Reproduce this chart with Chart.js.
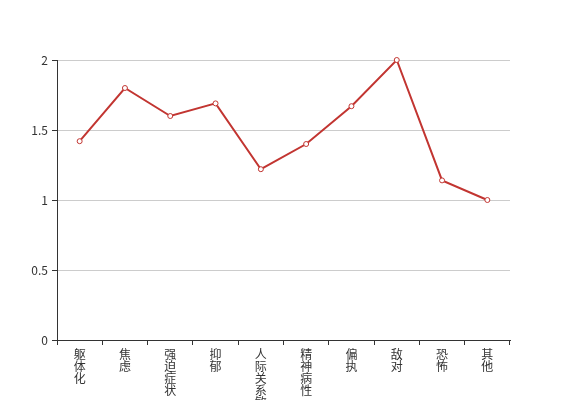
<!DOCTYPE html>
<html>
<head>
<meta charset="utf-8">
<script src="https://cdn.jsdelivr.net/npm/chart.js@4/dist/chart.umd.min.js"></script>
<style>
  html, body { margin: 0; padding: 0; background: #fff; }
  #wrap { width: 567px; height: 400px; }
</style>
</head>
<body>
<div id="wrap"><canvas id="chart" width="567" height="400"></canvas></div>
<script>
// categories and scores
const categories = ['躯体化', '焦虑', '强迫症状', '抑郁', '人际关系敏感', '精神病性', '偏执', '敌对', '恐怖', '其他'];
const scores = [1.42, 1.80, 1.60, 1.69, 1.22, 1.40, 1.67, 2.00, 1.14, 1.00];
const yTicks = [0, 0.5, 1, 1.5, 2];

const font = { family: '"Noto Sans CJK SC", "DejaVu Sans", sans-serif', size: 12 };

const ctx = document.getElementById('chart').getContext('2d');
new Chart(ctx, {
  type: 'line',
  data: {
    // one char per line, like vertical text
    labels: categories.map(c => c.split('')),
    datasets: [{
      data: scores,
      borderColor: '#c23531',
      borderWidth: 2,
      pointBackgroundColor: '#fff',
      pointBorderColor: '#c23531',
      pointBorderWidth: 1,
      pointRadius: 2.5,
      tension: 0,
      fill: false,
      clip: false
    }]
  },
  options: {
    responsive: false,
    animation: false,
    layout: { padding: { top: 60, right: 57, left: 0, bottom: 0 } },
    plugins: { legend: { display: false }, tooltip: { enabled: false } },
    scales: {
      x: {
        type: 'category',
        offset: true,
        border: { color: '#333', width: 1 },
        grid: { offset: true, drawOnChartArea: false, tickColor: '#333', tickLength: 5 },
        ticks: {
          color: '#333', font: { ...font, lineHeight: 1 }, padding: 3,
          maxRotation: 0, minRotation: 0, autoSkip: false
        },
        afterFit: s => { s.height = 60; }
      },
      y: {
        min: 0,
        max: 2,
        border: { color: '#333', width: 1 },
        grid: { color: '#ccc', tickColor: '#333', tickLength: 5 },
        afterBuildTicks: s => { s.ticks = yTicks.map(v => ({ value: v })); },
        ticks: { color: '#333', font: font, padding: 4, callback: v => String(v) },
        afterFit: s => { s.width = 57; }
      }
    }
  }
});
</script>
</body>
</html>
